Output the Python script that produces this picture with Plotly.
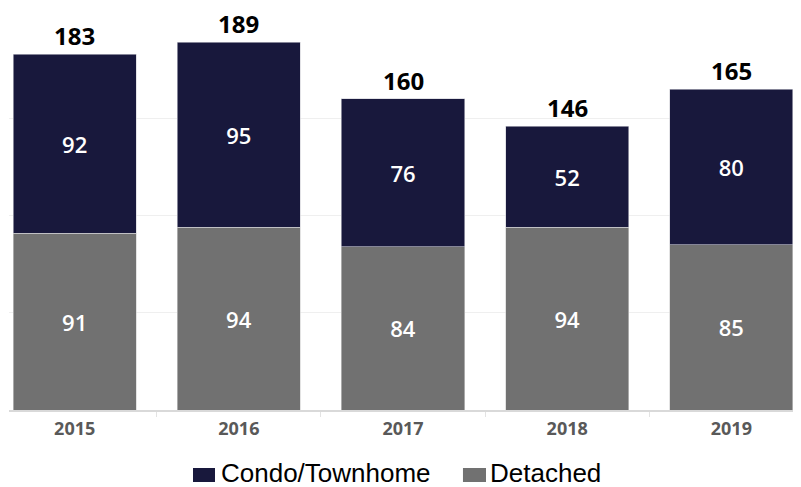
import plotly.graph_objects as go

years = ["2015", "2016", "2017", "2018", "2019"]
detached = [91, 94, 84, 94, 85]
condo = [92, 95, 76, 52, 80]
totals = [183, 189, 160, 146, 165]
series_names = ["Condo/Townhome", "Detached"]

navy = "#18183C"
gray = "#717171"
lblfont = "Open Sans"

fig = go.Figure()
fig.add_trace(go.Bar(
    x=years, y=detached, name=series_names[1],
    marker=dict(color=gray, line=dict(color="#d0d0d0", width=0.6)),
    text=[str(v) for v in detached], textposition="inside", insidetextanchor="middle",
    textfont=dict(color="white", size=22, family=lblfont, weight=600), width=0.75,
    showlegend=False,
))
fig.add_trace(go.Bar(
    x=years, y=condo, name=series_names[0],
    marker=dict(color=navy, line=dict(color="#cfcfd6", width=0.6)),
    text=[str(v) for v in condo], textposition="inside", insidetextanchor="middle",
    textfont=dict(color="white", size=22, family=lblfont, weight=600), width=0.75,
    showlegend=False,
))

# total labels above each stack (category index used for position)
for i, tot in enumerate(totals):
    fig.add_annotation(x=i, y=tot, xref="x", yref="y", text=str(tot), showarrow=False,
                       yanchor="bottom", yshift=1, borderpad=0,
                       font=dict(color="black", size=24, family=lblfont, weight="bold"))

# manual legend (paper coordinates)
leg = [(series_names[0], navy, 0.2335, 0.2614, 0.2665),
       (series_names[1], gray, 0.5761, 0.6053, 0.6079)]
for name, col, x0, x1, xt in leg:
    fig.add_shape(type="rect", xref="paper", yref="paper", x0=x0, x1=x1, y0=-0.1851, y1=-0.1491,
                  fillcolor=col, line=dict(width=0))
    fig.add_annotation(xref="paper", yref="paper", x=xt, y=-0.1632, text=name, showarrow=False,
                       xanchor="left", yanchor="middle",
                       font=dict(family="Liberation Sans, Arial", size=26, color="black"))

fig.update_layout(
    barmode="stack",
    width=801, height=487,
    margin=dict(l=1, r=12, t=13, b=85),
    paper_bgcolor="white", plot_bgcolor="white",
    showlegend=False,
    uniformtext=dict(mode=False),
)
fig.update_xaxes(
    type="category", range=[-0.4, 4.4], showline=True, linecolor="#d9d9d9", linewidth=1.5,
    ticks="outside", tickson="boundaries", ticklen=5, tickcolor="#e3e3e3",
    tickfont=dict(family=lblfont, size=18, color="#595959", weight="bold"),
    ticklabelstandoff=2,
    showgrid=False,
)
fig.update_yaxes(range=[0, 200], dtick=50, showgrid=True, gridcolor="#efefef", gridwidth=1,
                 showticklabels=False, zeroline=False)

fig.write_html("out.html")
